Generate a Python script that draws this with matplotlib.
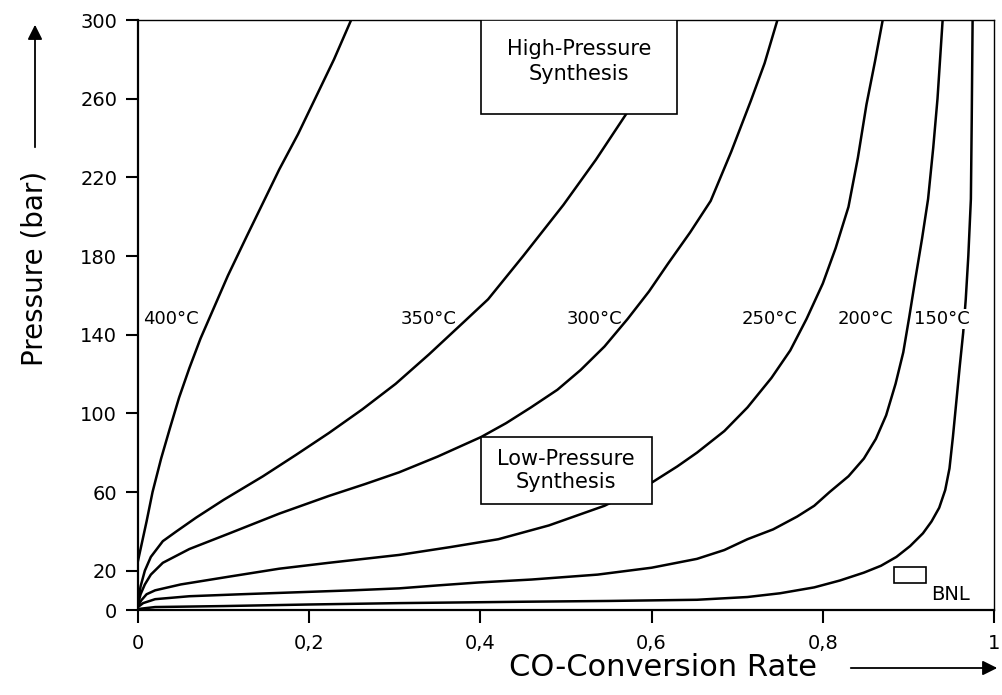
import matplotlib
matplotlib.use("Agg")
import matplotlib.pyplot as plt
from matplotlib.patches import Rectangle

plt.rcParams['font.family'] = ['DejaVu Sans']

# equilibrium curves: CO conversion vs pressure for each temperature
conv_400 = [0, 0.004, 0.010, 0.017, 0.027, 0.037, 0.048, 0.060, 0.073, 0.086, 0.105,
            0.127, 0.146, 0.165, 0.187, 0.208, 0.229, 0.249]
pres_400 = [25, 33, 45, 60, 77, 92, 108, 123, 138, 151, 170,
            190, 207, 224, 242, 261, 280, 300]

conv_350 = [0, 0.003, 0.008, 0.015, 0.029, 0.045, 0.068, 0.10, 0.146, 0.185, 0.223,
            0.262, 0.301, 0.340, 0.382, 0.409, 0.45, 0.497, 0.535, 0.570, 0.585]
pres_350 = [4, 12, 20, 27, 35, 40, 47, 56, 68, 79, 90,
            102, 115, 130, 147, 158, 180, 206, 229, 252, 262]

conv_300 = [0, 0.003, 0.008, 0.015, 0.029, 0.06, 0.107, 0.165, 0.223, 0.265, 0.305,
            0.35, 0.401, 0.43, 0.459, 0.49, 0.517, 0.545, 0.572, 0.597, 0.619,
            0.645, 0.669, 0.693, 0.716, 0.732, 0.747]
pres_300 = [3, 8, 13, 18, 24, 31, 39, 49, 58, 64, 70,
            78, 88, 95, 103, 112, 122, 134, 148, 162, 176,
            192, 208, 233, 259, 278, 300]

conv_250 = [0, 0.004, 0.01, 0.02, 0.05, 0.107, 0.165, 0.223, 0.305, 0.365, 0.421,
            0.48, 0.545, 0.601, 0.63, 0.653, 0.685, 0.712, 0.74, 0.762, 0.781,
            0.80, 0.815, 0.830, 0.841, 0.851, 0.861, 0.870]
pres_250 = [2, 5, 8, 10, 13, 17, 21, 24, 28, 32, 36,
            43, 53, 65, 73, 80, 91, 103, 118, 132, 148,
            166, 184, 205, 230, 257, 279, 300]

conv_200 = [0, 0.006, 0.02, 0.06, 0.12, 0.185, 0.25, 0.305, 0.35, 0.398, 0.46,
            0.537, 0.6, 0.653, 0.685, 0.712, 0.742, 0.770, 0.790, 0.808, 0.83,
            0.848, 0.862, 0.874, 0.885, 0.894, 0.901, 0.908, 0.916, 0.923, 0.929,
            0.934, 0.937, 0.940]
pres_200 = [1.5, 3.5, 5.5, 7, 8, 9, 10, 11, 12.5, 14, 15.5,
            18, 21.5, 26, 30.5, 36, 41, 47.5, 53, 60, 68,
            77, 87, 99, 115, 131, 149, 168, 189, 209, 235,
            260, 280, 300]

conv_150 = [0, 0.02, 0.1, 0.2, 0.305, 0.45, 0.55, 0.653, 0.712, 0.75, 0.790,
            0.82, 0.848, 0.868, 0.886, 0.902, 0.917, 0.927, 0.936, 0.943, 0.948,
            0.952, 0.956, 0.960, 0.964, 0.967, 0.970, 0.973, 0.974, 0.975]
pres_150 = [0.5, 1.5, 2, 2.8, 3.5, 4.2, 4.6, 5.2, 6.6, 8.5, 11.5,
            15, 19, 22.5, 27, 32.5, 39, 45, 52, 61, 72,
            88, 106, 124, 141, 158, 180, 209, 250, 300]

curves = [(conv_400, pres_400), (conv_350, pres_350), (conv_300, pres_300),
          (conv_250, pres_250), (conv_200, pres_200), (conv_150, pres_150)]

temp_labels = ['400°C', '350°C', '300°C', '250°C', '200°C', '150°C']
temp_label_x = [0.006, 0.307, 0.501, 0.705, 0.817, 0.907]
temp_label_p = 148

x_ticks = [0, 0.2, 0.4, 0.6, 0.8, 1.0]
x_tick_labels = ['0', '0,2', '0,4', '0,6', '0,8', '1']
y_ticks = [0, 20, 60, 100, 140, 180, 220, 260, 300]

W, H = 1002, 695
fig = plt.figure(figsize=(W / 100, H / 100), dpi=100)
ax = fig.add_axes([138 / W, 1 - 610 / H, 856 / W, 590 / H])
ax.set_xlim(0, 1)
ax.set_ylim(0, 300)

for x, p in curves:
    ax.plot(x, p, color='black', lw=1.8, zorder=2)

for i, lab in enumerate(temp_labels):
    kw = {}
    if lab == '150°C':
        kw['bbox'] = dict(facecolor='white', edgecolor='none', pad=0.5)
    ax.text(temp_label_x[i], temp_label_p, lab, ha='left', va='center',
            fontsize=13, zorder=4, **kw)

# synthesis regions
ax.add_patch(Rectangle((0.401, 252), 0.229, 48, facecolor='white',
                       edgecolor='black', lw=1.2, zorder=3))
ax.text(0.515, 279, 'High-Pressure\nSynthesis', ha='center', va='center',
        fontsize=15, linespacing=1.3, zorder=4)

ax.add_patch(Rectangle((0.401, 54), 0.199, 34, facecolor='white',
                       edgecolor='black', lw=1.2, zorder=3))
ax.text(0.500, 71, 'Low-Pressure\nSynthesis', ha='center', va='center',
        fontsize=15, linespacing=1.15, zorder=4)

ax.add_patch(Rectangle((0.883, 13.7), 0.037, 8.2, facecolor='none',
                       edgecolor='black', lw=1.2, zorder=3))
ax.text(0.926, 8, 'BNL', ha='left', va='center', fontsize=14, zorder=4)

ax.set_xticks(x_ticks)
ax.set_xticklabels(x_tick_labels)
ax.set_yticks(y_ticks)
ax.tick_params(direction='out', length=9, width=1.5, labelsize=14)
ax.tick_params(axis='x', pad=8)
ax.tick_params(axis='y', pad=6)
for side in ['left', 'bottom']:
    ax.spines[side].set_linewidth(1.6)
for side in ['top', 'right']:
    ax.spines[side].set_linewidth(1.0)

# axis titles with direction arrows
fig.text(35 / W, 1 - 268 / H, 'Pressure (bar)', rotation=90,
         ha='center', va='center', fontsize=20)
fig.text(663 / W, 1 - 668 / H, 'CO-Conversion Rate', ha='center',
         va='center', fontsize=22)
ax.annotate('', xy=(35 / W, 1 - 22 / H), xytext=(35 / W, 1 - 150 / H),
            xycoords='figure fraction', textcoords='figure fraction',
            arrowprops=dict(arrowstyle='-|>', lw=1.3, color='black',
                            mutation_scale=22))
ax.annotate('', xy=(1000 / W, 1 - 668 / H), xytext=(848 / W, 1 - 668 / H),
            xycoords='figure fraction', textcoords='figure fraction',
            arrowprops=dict(arrowstyle='-|>', lw=1.3, color='black',
                            mutation_scale=22))

fig.savefig('out.png', dpi=100, facecolor='white')
